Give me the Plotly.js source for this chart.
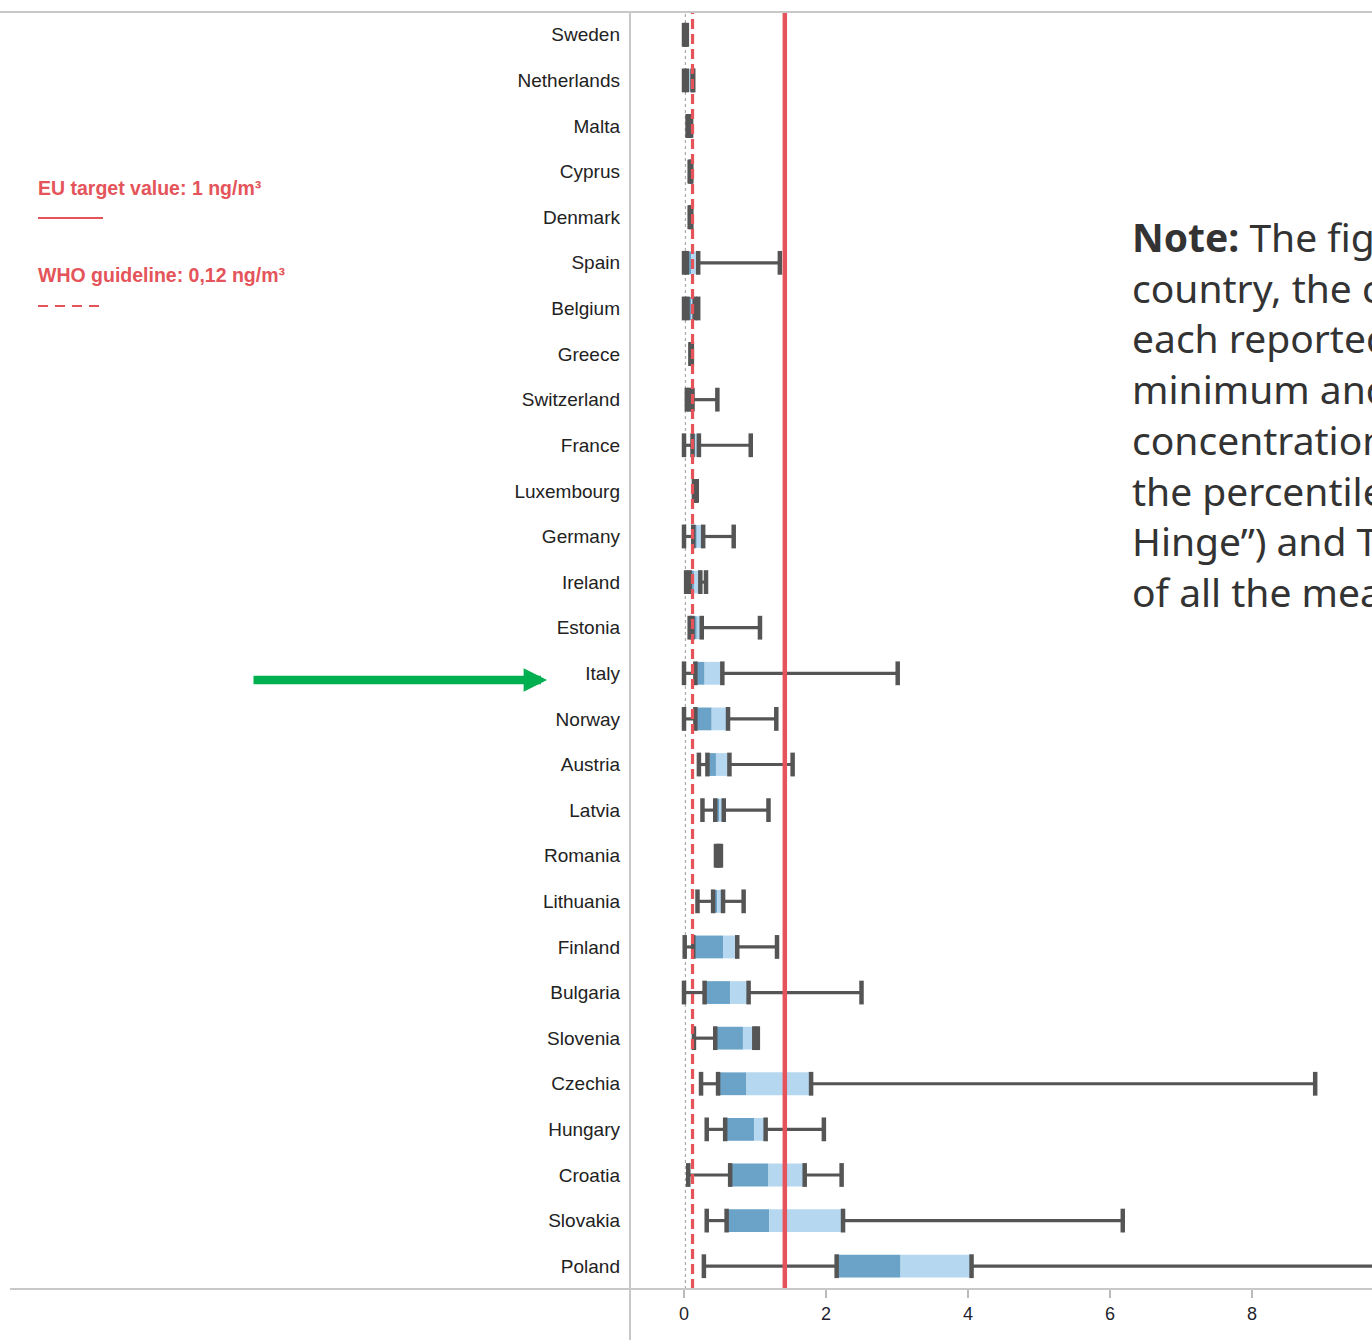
<!DOCTYPE html>
<html>
<head>
<meta charset="utf-8">
<script src="https://cdn.plot.ly/plotly-3.0.1.min.js"></script>
<style>
html,body{margin:0;padding:0;background:#fff;}
#chart{width:1372px;height:1340px;}
</style>
</head>
<body>
<div id="chart"></div>
<script>
// ---- data (ng/m³) ----
const countries = ["Sweden","Netherlands","Malta","Cyprus","Denmark","Spain","Belgium","Greece","Switzerland","France","Luxembourg","Germany","Ireland","Estonia","Italy","Norway","Austria","Latvia","Romania","Lithuania","Finland","Bulgaria","Slovenia","Czechia","Hungary","Croatia","Slovakia","Poland"];
const minV   = [0.00,0.00,0.05,0.08,0.08,0.00,0.00,0.09,0.04,0.00,0.14,0.00,0.03,0.08,0.00,0.00,0.21,0.26,0.45,0.19,0.01,0.00,0.14,0.24,0.32,0.06,0.32,0.28];
const q1V    = [0.01,0.04,0.06,0.09,0.09,0.04,0.05,0.10,0.07,0.12,0.15,0.13,0.08,0.12,0.16,0.16,0.33,0.44,0.47,0.41,0.13,0.29,0.44,0.48,0.58,0.65,0.60,2.15];
const medV   = [0.02,0.07,0.07,0.09,0.09,0.10,0.10,0.10,0.09,0.15,0.16,0.18,0.14,0.18,0.29,0.39,0.45,0.50,0.49,0.47,0.55,0.65,0.83,0.88,0.99,1.19,1.20,3.05];
const q3V    = [0.03,0.12,0.08,0.10,0.10,0.20,0.15,0.11,0.12,0.21,0.17,0.27,0.23,0.25,0.54,0.62,0.64,0.56,0.50,0.55,0.75,0.91,0.99,1.79,1.15,1.70,2.24,4.05];
const maxV   = [0.04,0.13,0.10,0.10,0.10,1.35,0.20,0.11,0.47,0.94,0.18,0.70,0.31,1.07,3.01,1.30,1.53,1.19,0.52,0.84,1.31,2.50,1.04,8.89,1.97,2.22,6.18,11.5];
const xTicks = [0,2,4,6,8];
const euLine = 1.42;     // drawn position of "EU target value" line
const whoLine = 0.12;    // WHO guideline
const zeroRef = 0.02;    // dotted reference line
const euLabel = "EU target value: 1 ng/m³";
const whoLabel = "WHO guideline: 0,12 ng/m³";
const noteLines = [
  "<b>Note:</b> The figure shows, for each",
  "country, the concentrations at",
  "each reported station, the",
  "minimum and maximum",
  "concentrations, the median,",
  "the percentile 25 (“Lower",
  "Hinge”) and The percentile 75",
  "of all the measurements."
];

// ---- traces ----
const darkBlue = "#6aa3c7", lightBlue = "#b5d8f0", capCol = "#555555";
const traces = [];

// whiskers (min->Q1, Q3->max)
const wx = [], wy = [];
countries.forEach((c,i)=>{
  wx.push(minV[i], q1V[i], null, q3V[i], maxV[i], null);
  wy.push(c, c, null, c, c, null);
});
traces.push({type:"scatter", mode:"lines", x:wx, y:wy, line:{color:capCol, width:3.2}, hoverinfo:"skip", showlegend:false});

// boxes
traces.push({type:"bar", orientation:"h", y:countries, base:q1V, x:medV.map((m,i)=>m-q1V[i]),
  marker:{color:darkBlue, line:{width:0}}, width:0.5, hoverinfo:"skip", showlegend:false});
traces.push({type:"bar", orientation:"h", y:countries, base:medV, x:q3V.map((q,i)=>q-medV[i]),
  marker:{color:lightBlue, line:{width:0}}, width:0.5, hoverinfo:"skip", showlegend:false});

// caps at min, Q1, Q3, max
const cx = [], cy = [];
countries.forEach((c,i)=>{
  [minV[i], q1V[i], q3V[i], maxV[i]].forEach(v=>{cx.push(v); cy.push(c);});
});
traces.push({type:"scatter", mode:"markers", x:cx, y:cy,
  marker:{symbol:"line-ns", size:17, color:capCol, line:{color:capCol, width:4.5}},
  hoverinfo:"skip", showlegend:false, cliponaxis:true});

// ---- layout ----
const L = 630, W = 1372, T = 12, B = 1289, H = 1340;
const pw = W - L, ph = B - T;
const px = x => (x - L)/pw;         // page px -> paper x
const py = y => 1 - (y - T)/ph;     // page px -> paper y
const red = "#e4545a";

const shapes = [
  // reference lines
  {type:"line", xref:"x", yref:"paper", x0:zeroRef, x1:zeroRef, y0:0, y1:1, line:{color:"#aaaaaa", width:1.2, dash:"dot"}, layer:"below"},
  {type:"line", xref:"x", yref:"paper", x0:whoLine, x1:whoLine, y0:0, y1:1, line:{color:red, width:3.2, dash:"10px,5px"}},
  {type:"line", xref:"x", yref:"paper", x0:euLine, x1:euLine, y0:0, y1:1, line:{color:red, width:4.5}},
  // frame lines
  {type:"line", xref:"paper", yref:"paper", x0:px(0), x1:px(W), y0:1, y1:1, line:{color:"#c8c8c8", width:2}},
  {type:"line", xref:"paper", yref:"paper", x0:px(10), x1:px(W), y0:0, y1:0, line:{color:"#c8c8c8", width:2}},
  {type:"line", xref:"paper", yref:"paper", x0:0, x1:0, y0:1, y1:py(H), line:{color:"#c8c8c8", width:2}},
  // legend lines
  {type:"line", xref:"paper", yref:"paper", x0:px(38), x1:px(103), y0:py(218), y1:py(218), line:{color:red, width:1.8}},
  {type:"line", xref:"paper", yref:"paper", x0:px(38), x1:px(99), y0:py(306), y1:py(306), line:{color:red, width:1.8, dash:"10px,7px"}}
];

const annotations = [
  {xref:"paper", yref:"paper", x:px(36), y:py(188), xanchor:"left", yanchor:"middle", showarrow:false,
   text:euLabel, font:{family:"Liberation Sans, Arial, sans-serif", size:19.5, color:red, weight:"bold"}},
  {xref:"paper", yref:"paper", x:px(36), y:py(275), xanchor:"left", yanchor:"middle", showarrow:false,
   text:whoLabel, font:{family:"Liberation Sans, Arial, sans-serif", size:19.5, color:red, weight:"bold"}},
  {xref:"paper", yref:"paper", x:px(1130), y:py(414.5), xanchor:"left", yanchor:"middle", align:"left", showarrow:false,
   text:noteLines.join("<br>"), font:{family:"Noto Sans, Open Sans, sans-serif", size:39, color:"#333333"}},
  {xref:"paper", yref:"paper", x:px(547), y:py(680), ax:-295, ay:0, axref:"pixel", ayref:"pixel", text:"",
   showarrow:true, arrowhead:2, arrowsize:0.55, arrowwidth:8.5, arrowcolor:"#00b050", standoff:0}
];

const layout = {
  width:W, height:H,
  margin:{l:L, r:0, t:T, b:H-B, pad:0},
  paper_bgcolor:"#ffffff", plot_bgcolor:"#ffffff",
  barmode:"overlay",
  showlegend:false,
  xaxis:{range:[(L-684)/71, (W-684)/71], tickvals:xTicks, ticktext:xTicks.map(String),
    showgrid:false, zeroline:false, showline:false, ticks:"outside", ticklen:8, tickwidth:1.5, tickcolor:"#bbbbbb",
    tickfont:{family:"Liberation Sans, Arial, sans-serif", size:18, color:"#1f1f2e"}, fixedrange:true},
  yaxis:{type:"category", categoryorder:"array", categoryarray:countries, range:[countries.length-0.5, -0.5],
    showgrid:false, zeroline:false, showline:false, ticks:"", ticklabelstandoff:9,
    tickfont:{family:"Liberation Sans, Arial, sans-serif", size:19, color:"#222222"}, fixedrange:true},
  shapes:shapes,
  annotations:annotations,
  font:{family:"Liberation Sans, Arial, sans-serif"}
};

Plotly.newPlot("chart", traces, layout, {staticPlot:true, displayModeBar:false});
</script>
</body>
</html>
